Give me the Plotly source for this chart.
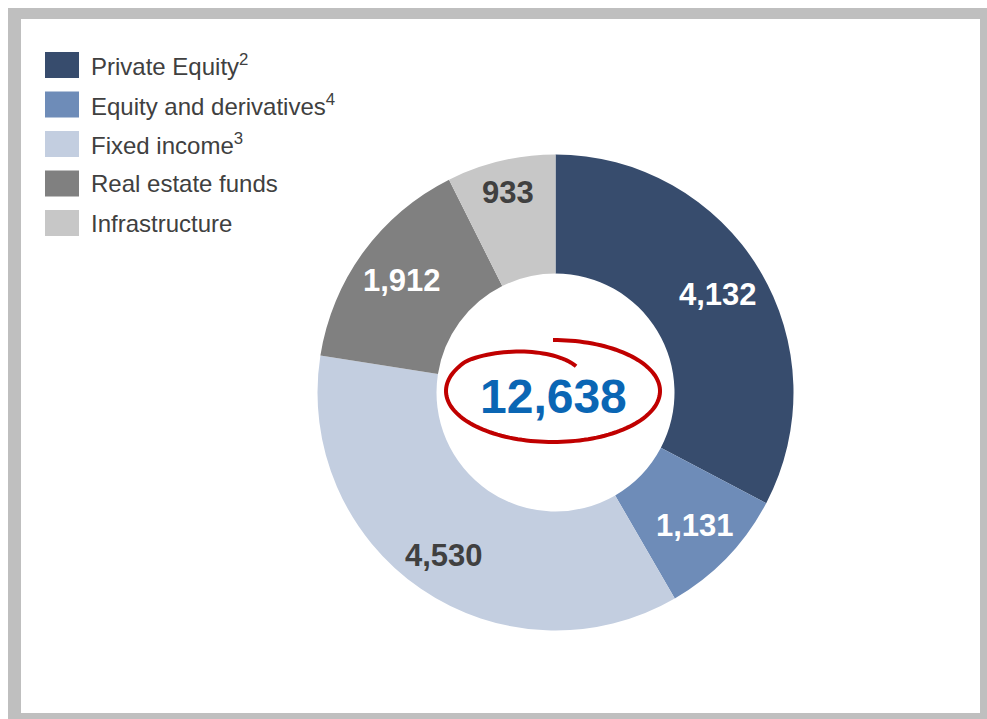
import math
import plotly.graph_objects as go

# Asset allocation (in millions)
categories = ["Private Equity", "Equity and derivatives", "Fixed income",
              "Real estate funds", "Infrastructure"]
footnotes = ["2", "4", "3", "", ""]
values = [4132, 1131, 4530, 1912, 933]
colors = ["#374C6D", "#6E8CB8", "#C3CEE0", "#808080", "#C7C7C7"]
label_colors = ["#FFFFFF", "#FFFFFF", "#404040", "#FFFFFF", "#404040"]

W, H = 987, 719
FONT = "Liberation Sans, Arial, sans-serif"

# donut geometry in pixels
CX, CY, R = 555.5, 392.5, 238.0
HOLE = 0.5
label_radius = [0.80, 0.81, 0.83, 0.80, 0.865]


def px(x):
    return x / W


def py(y):
    return 1 - y / H


fig = go.Figure()
fig.add_trace(go.Pie(
    labels=categories,
    values=values,
    marker=dict(colors=colors, line=dict(width=0)),
    hole=HOLE,
    sort=False,
    direction="clockwise",
    rotation=0,
    textinfo="none",
    hoverinfo="label+value",
    showlegend=False,
    domain=dict(x=[px(CX - R), px(CX + R)], y=[py(CY + R), py(CY - R)]),
))

shapes = []
annotations = []

# frame around the panel
shapes.append(dict(type="rect", xref="paper", yref="paper", layer="below",
                   x0=px(8), x1=px(987), y0=py(719), y1=py(8),
                   fillcolor="#BFBFBF", line=dict(width=0)))
shapes.append(dict(type="rect", xref="paper", yref="paper", layer="below",
                   x0=px(21), x1=px(980), y0=py(713), y1=py(19),
                   fillcolor="#FFFFFF", line=dict(width=0)))

# value labels at the middle angle of each slice
total = sum(values)
cum = 0
for v, rf, col in zip(values, label_radius, label_colors):
    mid = (cum + v / 2) / total * 2 * math.pi
    cum += v
    r = rf * R
    x = CX + r * math.sin(mid)
    y = CY - r * math.cos(mid)
    annotations.append(dict(
        x=px(x), y=py(y), xref="paper", yref="paper",
        text=f"<b>{v:,}</b>", showarrow=False,
        xanchor="center", yanchor="middle",
        font=dict(family=FONT, size=31, color=col)))

# total in the hole
annotations.append(dict(
    x=px(553), y=py(396), xref="paper", yref="paper",
    text=f"<b>{total:,}</b>", showarrow=False,
    xanchor="center", yanchor="middle",
    font=dict(family=FONT, size=48, color="#0A66B4")))

# hand-drawn red loop around the total
ecx, ecy, ea, eb = 553.0, 391.0, 107.0, 51.0
pts = []
start, end = -90.0, 294.0
n = 160
for i in range(n + 1):
    t = start + (end - start) * i / n
    if t <= 215:
        rr = 1.0
    else:
        f = (t - 215) / (end - 215)
        rr = 1.0 - 0.47 * f ** 1.2
    a = math.radians(t)
    x = ecx + ea * rr * math.cos(a)
    y = ecy + eb * rr * math.sin(a)
    pts.append((px(x), py(y)))
path = "M " + " L ".join(f"{x:.5f},{y:.5f}" for x, y in pts)
shapes.append(dict(type="path", xref="paper", yref="paper", path=path,
                   line=dict(color="#C00000", width=4)))

# legend drawn as swatches and labels
row0, row_step = 65.0, 39.5
for i, (name, fn, col) in enumerate(zip(categories, footnotes, colors)):
    yc = row0 + i * row_step
    shapes.append(dict(type="rect", xref="paper", yref="paper",
                       x0=px(45), x1=px(79), y0=py(yc + 13), y1=py(yc - 13),
                       fillcolor=col, line=dict(width=0)))
    txt = name + (f"<sup>{fn}</sup>" if fn else "")
    annotations.append(dict(
        x=px(89), y=py(yc), xref="paper", yref="paper",
        text=txt, showarrow=False, xanchor="left", yanchor="middle",
        font=dict(family=FONT, size=24, color="#404040")))

fig.update_layout(
    width=W, height=H,
    margin=dict(l=0, r=0, t=0, b=0),
    paper_bgcolor="#FFFFFF",
    plot_bgcolor="#FFFFFF",
    shapes=shapes,
    annotations=annotations,
    showlegend=False,
)

fig.write_html("out.html")
